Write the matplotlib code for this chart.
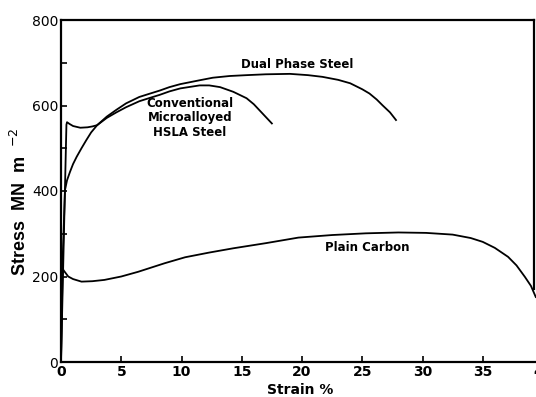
import numpy as np
import matplotlib
matplotlib.use("Agg")
import matplotlib.pyplot as plt

# curves (strain %, stress MN m^-2)
dual_strain = [0, 0.15, 0.33, 0.5, 0.75, 1.0, 1.3, 1.7, 2.1, 2.5, 3.0, 3.8, 4.6, 5.4, 6.5, 7.4, 8.2, 9.0, 9.9,
               11.5, 12.6, 14.0, 15.4, 17.0, 19.0, 20.5, 21.7, 23.0, 24.0, 25.0, 25.6, 26.2, 26.7, 27.3, 27.8]
dual_stress = [0, 250, 402, 425, 445, 463, 480, 500, 519, 537, 554, 574, 590, 605, 620, 628, 635, 643, 650,
               659, 665, 669, 671, 673, 674, 671, 667, 660, 652, 638, 628, 614, 600, 584, 566]

hsla_strain = [0, 0.45, 0.5, 0.7, 1.0, 1.6, 2.2, 2.6, 3.0, 3.8, 4.6, 5.4, 6.5, 7.4, 8.2, 9.0, 9.9,
               11.5, 12.3, 13.2, 14.3, 15.4, 16.0, 16.5, 17.0, 17.5]
hsla_stress = [0, 555, 561, 557, 552, 548, 549, 551, 554, 571, 584, 596, 610, 618, 625, 633, 640,
               647, 647, 643, 632, 617, 603, 588, 573, 558]

plain_strain = [0, 0.08, 0.2, 0.6, 1.0, 1.7, 2.6, 3.6, 5.0, 6.4, 8.6, 10.3, 12.3, 14.3, 17.0, 19.7, 22.5,
                25.3, 28.0, 30.3, 32.5, 34.0, 35.0, 36.0, 37.1, 37.8, 38.5, 39.0, 39.4]
plain_stress = [0, 228, 215, 200, 194, 188, 189, 192, 200, 211, 231, 245, 256, 266, 278, 291, 297,
                301, 303, 302, 298, 290, 281, 267, 246, 226, 199, 178, 152]

x_ticks = [0, 5, 10, 15, 20, 25, 30, 35, 40]
y_ticks = [0, 200, 400, 600, 800]
y_minor = [100, 300, 500, 700]

fig = plt.figure(figsize=(5.36, 3.97), dpi=100)
ax = fig.add_axes([61 / 536, 35 / 397, (543 - 61) / 536, (362 - 20) / 397])

for xs, ys in [(dual_strain, dual_stress), (hsla_strain, hsla_stress), (plain_strain, plain_stress)]:
    ax.plot(xs, ys, color="black", lw=1.3, clip_on=False, solid_joinstyle="round")

ax.set_xlim(0, 40)
ax.set_ylim(0, 800)
ax.set_xticks(x_ticks)
ax.set_yticks(y_ticks)
ax.set_yticks(y_minor, minor=True)
ax.tick_params(axis="both", direction="in", length=4, width=1.2, labelsize=10, pad=2)
ax.tick_params(axis="y", which="minor", direction="in", length=4, width=1.2)
for lab in ax.get_xticklabels() + ax.get_yticklabels():
    lab.set_fontweight("bold")
    lab.set_fontfamily("DejaVu Sans")

for s in ax.spines.values():
    s.set_linewidth(1.6)
ax.spines["right"].set_position(("data", 39.25))
ax.spines["right"].set_bounds(170, 800)
ax.spines["top"].set_bounds(0, 39.25)

txt = dict(fontsize=8.5, fontweight="bold", color="black", family="DejaVu Sans")
ax.text(19.6, 695, "Dual Phase Steel", ha="center", va="center", **txt)
ax.text(10.7, 571, "Conventional\nMicroalloyed\nHSLA Steel", ha="center", va="center", linespacing=1.15, **txt)
ax.text(25.4, 269, "Plain Carbon", ha="center", va="center", **txt)

fig.text(20 / 536, 1 - 202 / 397, "Stress  MN  m  $^{-2}$", rotation=90, ha="center", va="center",
         fontsize=13, fontweight="bold", family="Liberation Sans")
fig.text(300 / 536, 1 - 390 / 397, "Strain %", ha="center", va="center", fontsize=10,
         fontweight="bold", family="DejaVu Sans")

fig.savefig("out.png", dpi=100)
